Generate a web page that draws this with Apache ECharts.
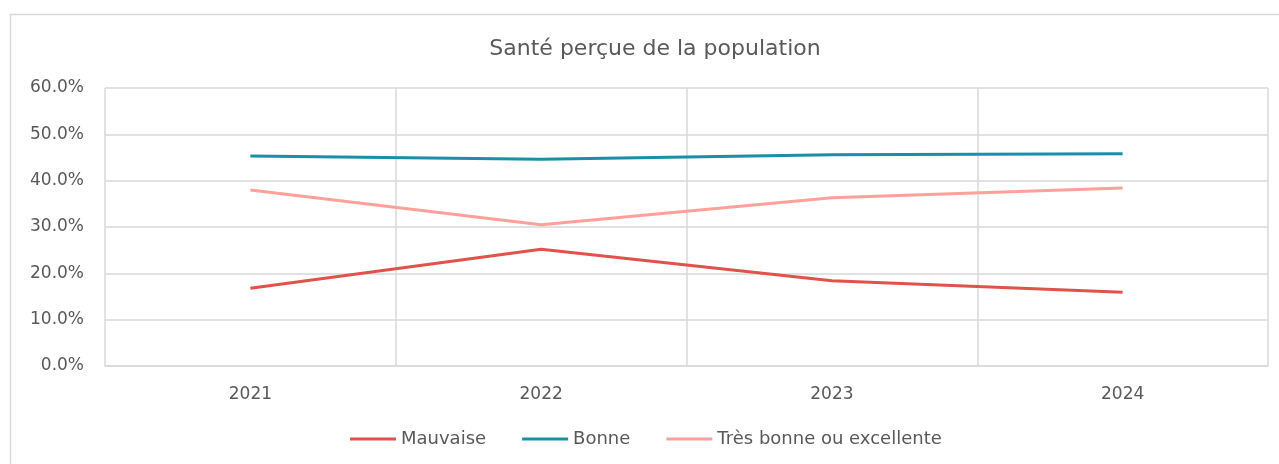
<!DOCTYPE html>
<html><head><meta charset="utf-8">
<script src="https://cdn.jsdelivr.net/npm/echarts@6/dist/echarts.min.js"></script>
<style>html,body{margin:0;padding:0;background:#fff}#c{width:1279px;height:464px}</style>
</head><body><div id="c"></div>
<script>
const categories = ['2021', '2022', '2023', '2024'];
const mauvaise = [16.8, 25.2, 18.4, 15.9];
const bonne = [45.3, 44.6, 45.6, 45.8];
const tresBonne = [38.0, 30.5, 36.3, 38.4];
const seriesNames = ['Mauvaise', 'Bonne', 'Très bonne ou excellente'];
const colors = ['#E0524A', '#1A8FA8', '#FFA19A'];
const FONT = '"DejaVu Sans", sans-serif';
const chart = echarts.init(document.getElementById('c'), null, {renderer: 'canvas'});
const mk = (name, data, color) => ({
  name, type: 'line', data, symbol: 'none', smooth: false,
  lineStyle: {width: 3, color}, itemStyle: {color}
});
chart.setOption({
  animation: false,
  graphic: [{type: 'rect', shape: {x: 10.5, y: 14.5, width: 1290, height: 470},
    style: {fill: 'none', stroke: '#d9d9d9', lineWidth: 1.5}, silent: true}],
  title: {text: 'Santé perçue de la population', left: 650, textAlign: 'center', top: 33,
    textStyle: {fontFamily: FONT, fontSize: 22, fontWeight: 'normal', color: '#595959'}},
  grid: {left: 105, right: 11, top: 88, bottom: 98, containLabel: false},
  legend: {bottom: 11, left: 345, icon: 'rect', itemWidth: 46, itemHeight: 3, itemGap: 36,
    textStyle: {fontFamily: FONT, fontSize: 18, color: '#595959'},
    data: seriesNames},
  xAxis: {type: 'category', data: categories, boundaryGap: true,
    axisLine: {lineStyle: {color: '#d9d9d9', width: 1.5}},
    axisTick: {show: false},
    splitLine: {show: true, interval: 0, lineStyle: {color: '#d9d9d9', width: 1.5}},
    axisLabel: {fontFamily: FONT, fontSize: 17, color: '#595959', margin: 20}},
  yAxis: {type: 'value', min: 0, max: 60, interval: 10,
    axisLine: {show: false}, axisTick: {show: false},
    splitLine: {lineStyle: {color: '#d9d9d9', width: 1.5}},
    axisLabel: {fontFamily: FONT, fontSize: 17, color: '#595959', margin: 21,
      formatter: v => v.toFixed(1) + '%'}},
  series: [mk(seriesNames[0], mauvaise, colors[0]), mk(seriesNames[1], bonne, colors[1]), mk(seriesNames[2], tresBonne, colors[2])]
});
</script></body></html>
